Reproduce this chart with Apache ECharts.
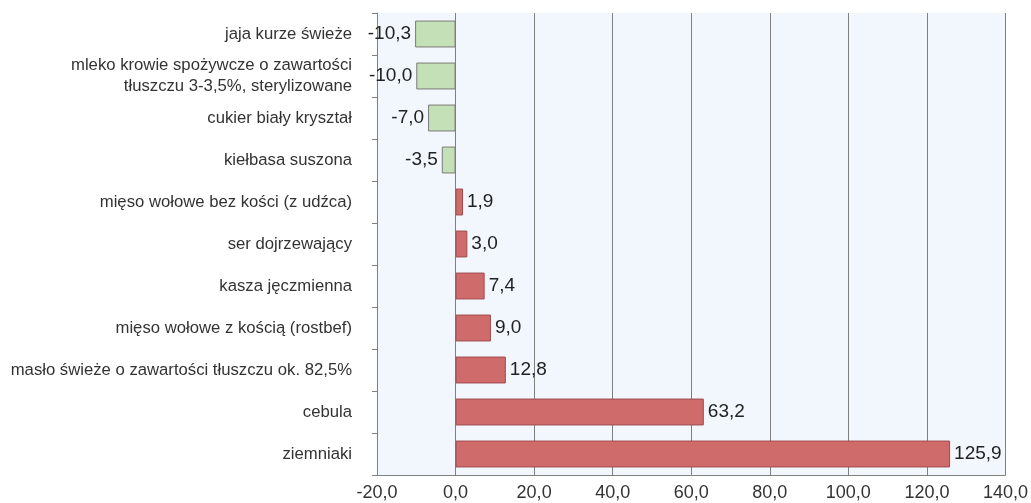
<!DOCTYPE html>
<html>
<head>
<meta charset="utf-8">
<script src="https://cdn.jsdelivr.net/npm/echarts@6/dist/echarts.min.js"></script>
<style>
  html, body { margin: 0; padding: 0; background: #fff; }
  #chart { width: 1031px; height: 503px; }
</style>
</head>
<body>
<div id="chart"></div>
<script>
// produkty, od góry
const categories = [
    'jaja kurze świeże',
    'mleko krowie spożywcze o zawartości\ntłuszczu 3-3,5%, sterylizowane',
    'cukier biały kryształ',
    'kiełbasa suszona',
    'mięso wołowe bez kości (z udźca)',
    'ser dojrzewający',
    'kasza jęczmienna',
    'mięso wołowe z kością (rostbef)',
    'masło świeże o zawartości tłuszczu ok. 82,5%',
    'cebula',
    'ziemniaki'
];
const values = [-10.3, -10.0, -7.0, -3.5, 1.9, 3.0, 7.4, 9.0, 12.8, 63.2, 125.9];
const axisMin = -20, axisMax = 140, axisStep = 20;

const fmt = v => v.toFixed(1).replace('.', ',');

const chart = echarts.init(document.getElementById('chart'));

const option = {
    animation: false,
    grid: {
        left: 377, right: 24, top: 13, bottom: 28,
        show: true,
        backgroundColor: '#f1f7fc',
        borderWidth: 0
    },
    xAxis: {
        type: 'value',
        min: axisMin, max: axisMax, interval: axisStep,
        axisLine: { show: true, lineStyle: { color: '#808080' } },
        axisTick: { show: false },
        axisLabel: {
            formatter: fmt, color: '#333', fontSize: 18,
            fontFamily: 'Liberation Sans, Arial', margin: 9
        },
        splitLine: { show: true, lineStyle: { color: '#808080', width: 1 } }
    },
    yAxis: {
        type: 'category',
        inverse: true,
        data: categories,
        axisLine: { show: true, onZero: false, lineStyle: { color: '#808080' } },
        axisTick: { show: true, length: 5, lineStyle: { color: '#808080' } },
        axisLabel: {
            color: '#333', fontSize: 16.7, lineHeight: 21,
            fontFamily: 'Liberation Sans, Arial', margin: 25, align: 'right'
        }
    },
    series: [{
        type: 'bar',
        barWidth: '64%',
        data: values.map(v => ({
            value: v,
            itemStyle: v < 0
                ? { color: '#c3e0b6', borderColor: '#7a7a7a', borderWidth: 1 }
                : { color: '#cf6b6b', borderColor: '#a04a4a', borderWidth: 1 },
            label: { position: v < 0 ? 'left' : 'right' }
        })),
        label: {
            show: true,
            formatter: p => fmt(p.value),
            color: '#222', fontSize: 19,
            fontFamily: 'Liberation Sans, Arial', distance: 4
        }
    }]
};

chart.setOption(option);
</script>
</body>
</html>
